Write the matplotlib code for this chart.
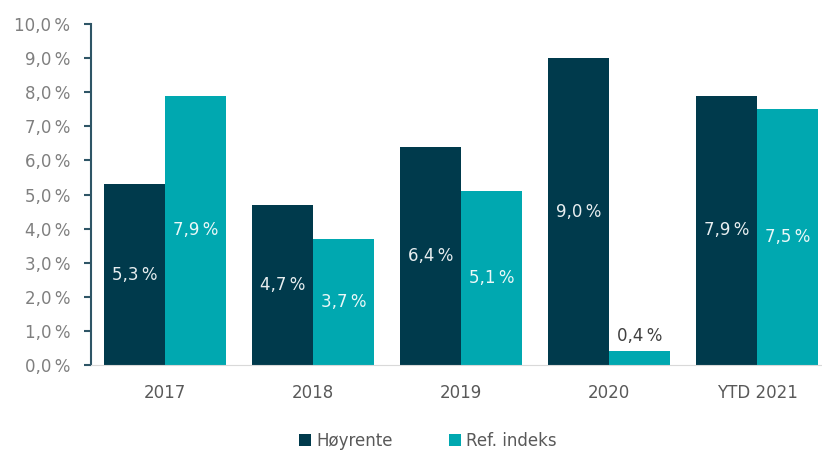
import matplotlib.pyplot as plt
import numpy as np

categories = ['2017', '2018', '2019', '2020', 'YTD 2021']
hoyrente = [5.3, 4.7, 6.4, 9.0, 7.9]
ref_indeks = [7.9, 3.7, 5.1, 0.4, 7.5]
yticks = np.arange(0, 11, 1)

dark = '#003a4c'
teal = '#00a8b0'

fig = plt.figure(figsize=(8.22, 4.58), dpi=100)
ax = fig.add_axes([91/822, 93/458, 740/822, 341/458])

x = np.arange(len(categories))
w = 0.41
b1 = ax.bar(x - w/2, hoyrente, w, color=dark, label='Høyrente')
b2 = ax.bar(x + w/2, ref_indeks, w, color=teal, label='Ref. indeks')

def fmt(v):
    return f'{v:.1f}'.replace('.', ',') + '\u2009%'

for bars, vals, col in [(b1, hoyrente, '#e8eef0'), (b2, ref_indeks, '#eaf8f8')]:
    for r, v in zip(bars, vals):
        cx = r.get_x() + r.get_width()/2
        if v < 1:
            ax.text(cx, v + 0.2, fmt(v), ha='center', va='bottom', color='#404040', fontsize=12)
        else:
            ax.text(cx, v/2, fmt(v), ha='center', va='center', color=col, fontsize=12)

ax.set_xlim(-0.5, 4.5)
ax.set_ylim(0, 10)
ax.set_yticks(yticks)
ax.set_yticklabels([f'{t:.1f}'.replace('.', ',') + '\u2009%' for t in yticks])
ax.set_xticks(x)
ax.set_xticklabels(categories)
ax.tick_params(axis='y', colors='#2e5566', length=5, width=1.5, labelcolor='#7f7f7f', labelsize=12, pad=10)
ax.tick_params(axis='x', length=0, labelcolor='#595959', labelsize=12, pad=14)

for s in ['top', 'right']:
    ax.spines[s].set_visible(False)
ax.spines['left'].set_color('#2e5566')
ax.spines['left'].set_linewidth(1.5)
ax.spines['bottom'].set_color('#d9d9d9')

fig.legend(loc='center', bbox_to_anchor=(428/822, 1 - 441/458), ncol=2, frameon=False,
           fontsize=12, handlelength=0.7, handleheight=0.7, handletextpad=0.3,
           columnspacing=3.4, labelcolor='#595959')

fig.savefig('out.png', dpi=100)
